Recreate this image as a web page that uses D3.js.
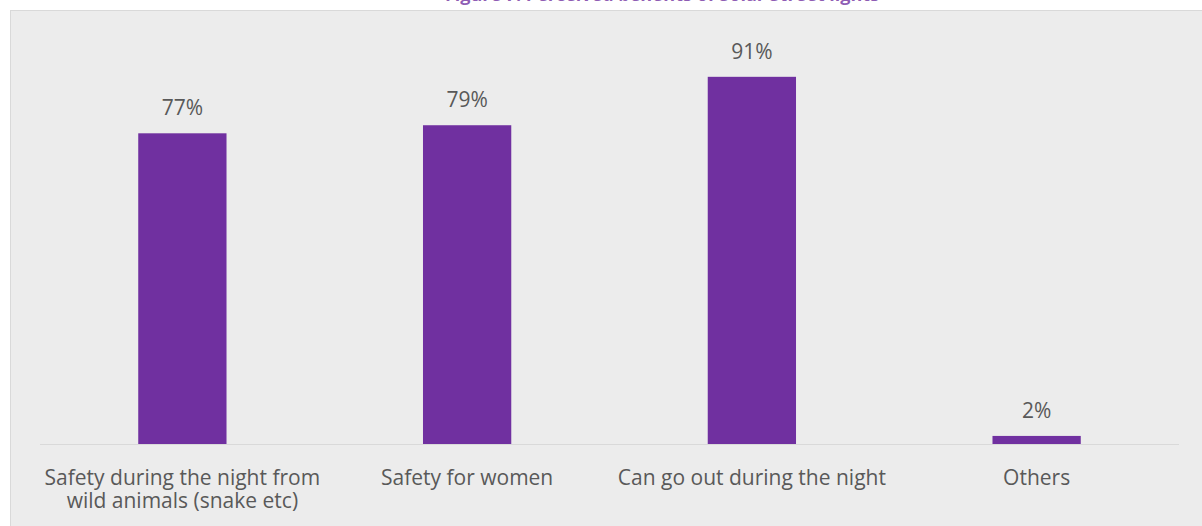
<!DOCTYPE html>
<html>
<head>
<meta charset="utf-8">
<script src="https://cdn.jsdelivr.net/npm/d3@7"></script>
<style>
  html, body { margin: 0; padding: 0; background: #ffffff; }
  svg { display: block; }
</style>
</head>
<body>
<svg id="chart" width="1202" height="526"></svg>
<script>
// Perceived benefits of solar street lights (% of respondents)
const categories = [
  "Safety during the night from|wild animals (snake etc)",
  "Safety for women",
  "Can go out during the night",
  "Others"
];
const values = [77, 79, 91, 2];
const titleText = "Figure 7: Perceived benefits of Solar Street lights";

const W = 1202, H = 526;
const svg = d3.select("#chart");

const barColor = "#7030A0";
const textColor = "#595959";
const fontFamily = "'Open Sans', 'Noto Sans', sans-serif";

// chart background panel
svg.append("rect")
  .attr("x", 10).attr("y", 10)
  .attr("width", W - 10).attr("height", H - 10)
  .attr("fill", "#ececec");
svg.append("line")
  .attr("x1", 10.5).attr("x2", 10.5).attr("y1", 10).attr("y2", H)
  .attr("stroke", "#d9d9d9").attr("stroke-width", 1);
svg.append("line")
  .attr("x1", 10).attr("x2", W).attr("y1", 10.5).attr("y2", 10.5)
  .attr("stroke", "#d9d9d9").attr("stroke-width", 1);

// title sits above the panel, running off the top edge
svg.append("text")
  .attr("x", 662).attr("y", 1)
  .attr("text-anchor", "middle")
  .attr("font-family", fontFamily)
  .attr("font-weight", "bold")
  .attr("font-size", 18)
  .attr("fill", barColor)
  .attr("fill-opacity", 0.8)
  .text(titleText);

const plot = { left: 40, right: 1179, bottom: 444 };

const x = d3.scaleBand()
  .domain(categories)
  .range([plot.left, plot.right])
  .paddingInner(0.69)
  .paddingOuter(0.345);

const y = d3.scaleLinear()
  .domain([0, 100])
  .range([plot.bottom, 40.5]);

// bars
svg.append("g").selectAll("rect")
  .data(categories)
  .join("rect")
  .attr("x", d => x(d))
  .attr("width", x.bandwidth())
  .attr("y", (d, i) => y(values[i]))
  .attr("height", (d, i) => y(0) - y(values[i]))
  .attr("fill", barColor);

// category axis line
svg.append("line")
  .attr("x1", plot.left).attr("x2", plot.right)
  .attr("y1", plot.bottom + 0.5).attr("y2", plot.bottom + 0.5)
  .attr("stroke", "#d9d9d9").attr("stroke-width", 1);

// value labels
svg.append("g").selectAll("text")
  .data(categories)
  .join("text")
  .attr("x", d => x(d) + x.bandwidth() / 2)
  .attr("y", (d, i) => y(values[i]) - 18)
  .attr("text-anchor", "middle")
  .attr("font-family", fontFamily)
  .attr("font-size", 21)
  .attr("fill", textColor)
  .text((d, i) => values[i] + "%");

// category labels (wrapped on '|')
const catLabels = svg.append("g").selectAll("text")
  .data(categories)
  .join("text")
  .attr("text-anchor", "middle")
  .attr("font-family", fontFamily)
  .attr("font-size", 21)
  .attr("fill", textColor);

catLabels.each(function (d) {
  const t = d3.select(this);
  const cx = x(d) + x.bandwidth() / 2;
  d.split("|").forEach((line, k) => {
    t.append("tspan")
      .attr("x", cx)
      .attr("y", 485 + k * 23)
      .text(line);
  });
});
</script>
</body>
</html>
